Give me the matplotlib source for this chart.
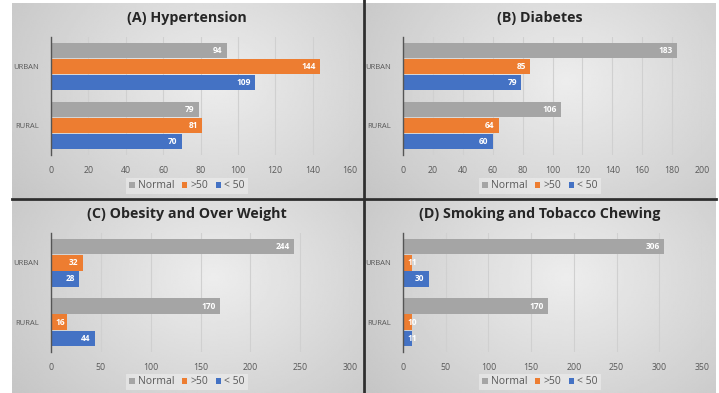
import numpy as np
import matplotlib.pyplot as plt
from matplotlib.patches import Patch

plt.rcParams['font.family'] = ['Open Sans', 'DejaVu Sans']

categories = ['URBAN', 'RURAL']
series = ['Normal', '>50', '< 50']
colors = ['#a5a5a5', '#ed7d31', '#4472c4']

titles = ['(A) Hypertension', '(B) Diabetes',
          '(C) Obesity and Over Weight', '(D) Smoking and Tobacco Chewing']

# values per series: [URBAN, RURAL]
hyper_normal = [94, 79]
hyper_over50 = [144, 81]
hyper_under50 = [109, 70]

diab_normal = [183, 106]
diab_over50 = [85, 64]
diab_under50 = [79, 60]

obes_normal = [244, 170]
obes_over50 = [32, 16]
obes_under50 = [28, 44]

smok_normal = [306, 170]
smok_over50 = [11, 10]
smok_under50 = [30, 11]

data = [
    [hyper_normal, hyper_over50, hyper_under50],
    [diab_normal, diab_over50, diab_under50],
    [obes_normal, obes_over50, obes_under50],
    [smok_normal, smok_over50, smok_under50],
]
xmax = [160, 200, 300, 350]
xstep = [20, 20, 50, 50]

W, H = 719, 393
fig = plt.figure(figsize=(W / 100, H / 100), dpi=100)

# background panels with soft radial shading
bg = fig.add_axes([0, 0, 1, 1], zorder=0)
bg.set_xlim(0, W)
bg.set_ylim(H, 0)
bg.axis('off')
panels = [(12, 363, 3, 198), (365, 716, 3, 198),
          (12, 363, 200, 393), (365, 716, 200, 393)]
for x0, x1, y0, y1 in panels:
    xx, yy = np.meshgrid(np.linspace(-1, 1, 200), np.linspace(-1, 1, 120))
    r = np.sqrt((xx - 0.15) ** 2 + ((yy + 0.2) * 0.7) ** 2)
    shade = 0.93 - 0.11 * r
    bg.imshow(shade, cmap='gray', vmin=0, vmax=1, extent=(x0, x1, y1, y0),
              aspect='auto', interpolation='bilinear')
bg.plot([12, 716], [199, 199], color='#2e2e2e', lw=2.0)
bg.plot([364, 364], [0, H], color='#2e2e2e', lw=2.0)

ax_boxes = [(51, 37, 155), (403, 37, 155), (51, 233, 352), (403, 233, 352)]
title_pos = [(187, 18), (540, 18), (187, 214), (540, 214)]
legend_pos = [(187, 186), (540, 186), (187, 382), (540, 382)]

bar_h = 0.27
offsets = [-bar_h, 0, bar_h]

for i in range(4):
    left, top, bottom = ax_boxes[i]
    ax = fig.add_axes([left / W, (H - bottom) / H, 299 / W, (bottom - top) / H], zorder=2)
    ax.set_facecolor('none')
    scale = 299 / xmax[i]
    for j in range(3):
        vals = data[i][j]
        ypos = [k + offsets[j] for k in range(len(categories))]
        ax.barh(ypos, vals, height=bar_h * 0.97, color=colors[j], zorder=3)
        for y, v in zip(ypos, vals):
            if v * scale < 16:
                ax.annotate(str(v), (0, y), xytext=(3, 0), textcoords='offset points',
                            ha='left', va='center', color='white', fontsize=6,
                            fontweight='bold', zorder=4)
            else:
                ax.annotate(str(v), (v, y), xytext=(-3, 0), textcoords='offset points',
                            ha='right', va='center', color='white', fontsize=6,
                            fontweight='bold', zorder=4)
    ax.set_xlim(0, xmax[i])
    ax.set_ylim(1.5, -0.5)
    ax.set_xticks(np.arange(0, xmax[i] + 1, xstep[i]))
    ax.set_yticks(range(len(categories)))
    ax.set_yticklabels(categories)
    ax.tick_params(axis='both', length=0, colors='#595959', labelsize=6.3)
    ax.tick_params(axis='x', pad=8)
    ax.tick_params(axis='y', pad=9, labelsize=5.5)
    ax.grid(axis='x', color='#d0d0d0', lw=0.8, zorder=1)
    for s in ['top', 'right', 'bottom']:
        ax.spines[s].set_visible(False)
    ax.spines['left'].set_color('#555555')
    ax.spines['left'].set_linewidth(1.0)
    ax.spines['left'].set_zorder(5)

    tx, ty = title_pos[i]
    fig.text(tx / W, 1 - ty / H, titles[i], ha='center', va='center',
             fontsize=10.3, fontweight='bold', color='#262626', zorder=3)

    lx, ly = legend_pos[i]
    handles = [Patch(facecolor=c, label=s) for c, s in zip(colors, series)]
    leg = fig.legend(handles=handles, loc='center', ncol=3,
                     bbox_to_anchor=(lx / W, 1 - ly / H), fontsize=7.5,
                     frameon=True, handlelength=0.55, handleheight=0.55,
                     handletextpad=0.3, columnspacing=0.7, borderpad=0.25,
                     labelcolor='#595959')
    leg.get_frame().set_facecolor('white')
    leg.get_frame().set_alpha(0.35)
    leg.get_frame().set_edgecolor('none')
    leg.get_frame().set_boxstyle('square', pad=0.0)

fig.savefig('out.png', dpi=100)
